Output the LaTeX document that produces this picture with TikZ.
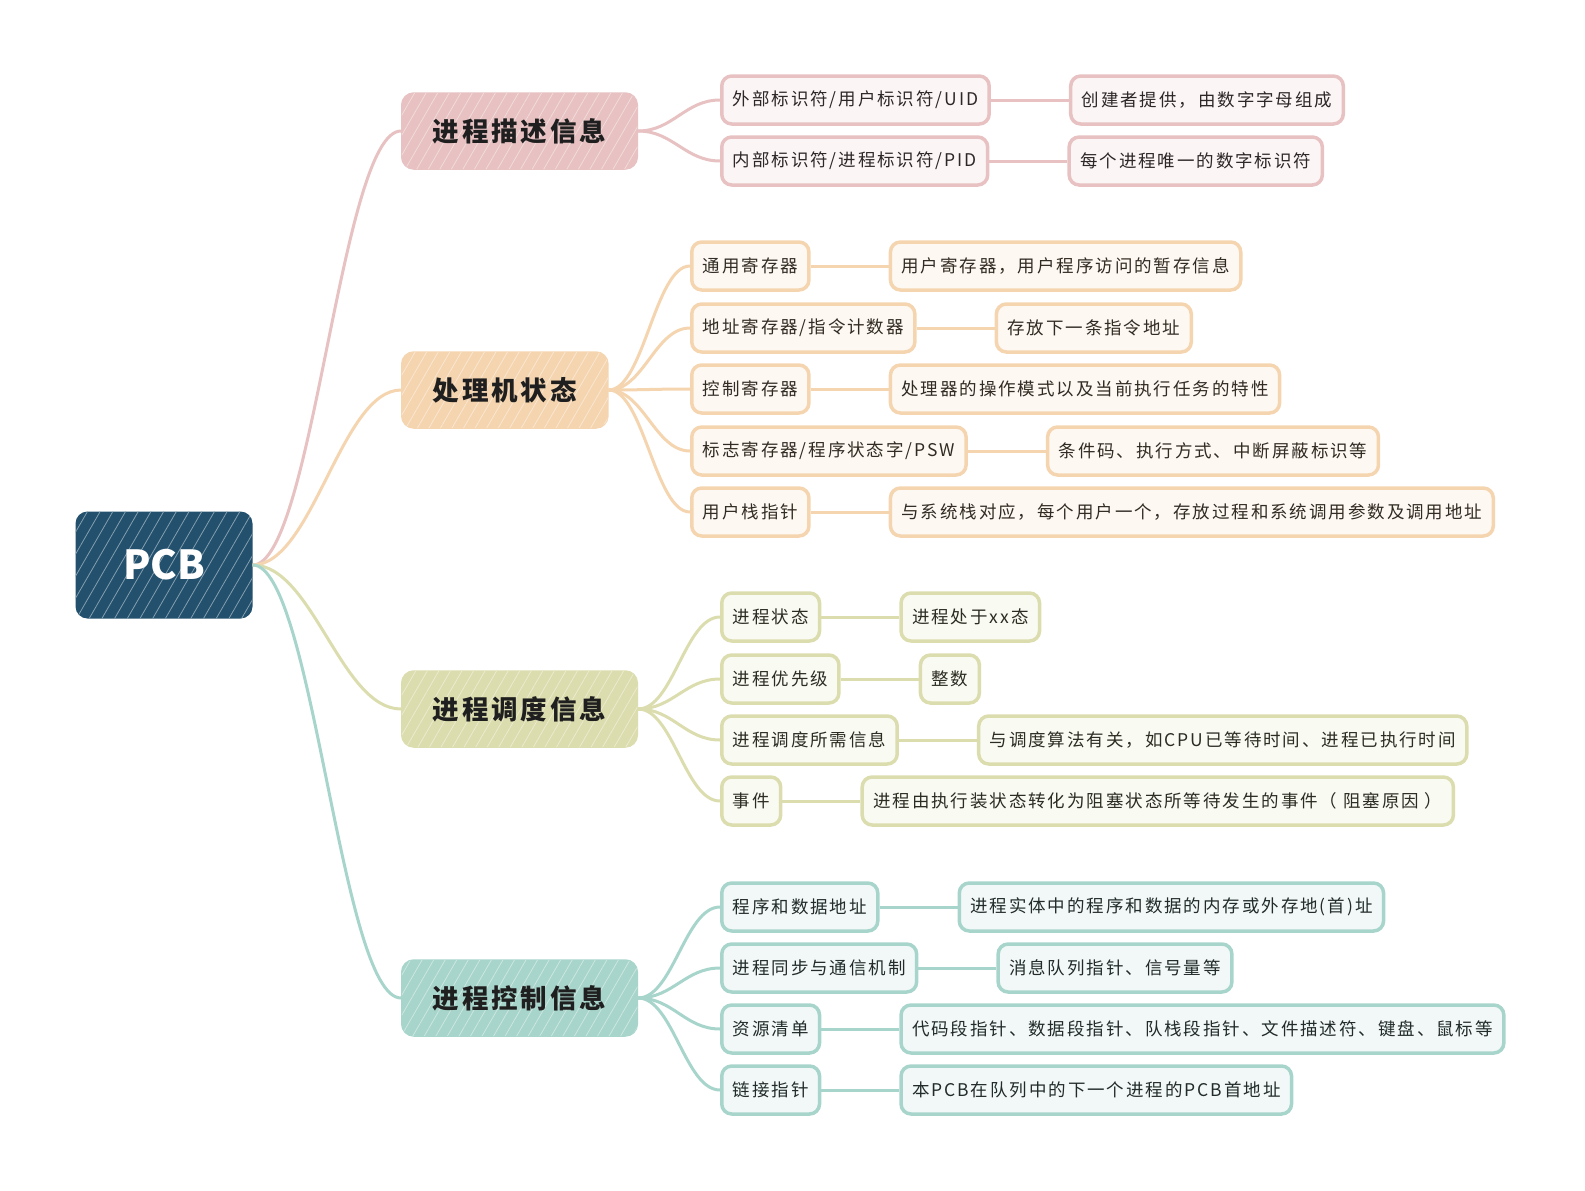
\documentclass[tikz,border=0pt]{standalone}
\usepackage{fontspec}
\newfontfamily\cjk[LetterSpace=11]{Noto Sans CJK SC}
\newfontfamily\rootfont{Noto Sans CJK SC}
\usepackage{xcolor}
\usetikzlibrary{positioning, patterns.meta}

\definecolor{pcbblue}{HTML}{22506D}
\definecolor{descpink}{HTML}{E8C2C2}
\definecolor{cpupeach}{HTML}{F5D5B0}
\definecolor{schedolive}{HTML}{DCDDAE}
\definecolor{ctrlteal}{HTML}{A8D5CB}

\begin{document}
\begin{tikzpicture}[x=1pt, y=-1pt, node distance=78pt,
        root/.style={rounded corners=12pt, fill=pcbblue, text=white, minimum width=177pt, minimum height=107pt,
            font=\rootfont\bfseries\fontsize{40}{48}\selectfont,
            postaction={pattern={Lines[angle=60,distance=11pt,line width=0.8pt]}, pattern color=white!45!pcbblue}},
        branch/.style={rounded corners=12pt, fill=#1, draw=#1, line width=1.5pt, minimum height=76pt, inner xsep=31pt,
            text=black!88, font=\cjk\bfseries\fontsize{26.5}{31}\selectfont,
            postaction={pattern={Lines[angle=60,distance=10pt,line width=0.7pt]}, pattern color=white!45!#1}},
        leaf/.style={rounded corners=10pt, draw=#1, fill=#1!16, line width=3.5pt, minimum height=48pt, inner xsep=11pt,
            text=#1!20!black, font=\cjk\fontsize{17.5}{21}\selectfont},
        link/.style={draw=#1, line width=3pt}
    ]
        \fill[white] (0,0) rectangle (1585,1191);
        \useasboundingbox (0,0) rectangle (1585,1191);

        % 根节点
        \node[root] (pcb) at (164,565) {PCB};

        % 一级分支
        \node[branch=descpink, anchor=west] (desc) at (401,131) {进程描述信息};
        \node[branch=cpupeach, anchor=west] (cpu) at (401,390) {处理机状态};
        \node[branch=schedolive, anchor=west] (sched) at (401,709) {进程调度信息};
        \node[branch=ctrlteal, anchor=west] (ctrl) at (401,998) {进程控制信息};

        % 进程描述信息
        \node[leaf=descpink, anchor=west] (uid) at (720,100) {外部标识符/用户标识符/UID};
        \node[leaf=descpink, right=of uid] (uidinfo) {创建者提供，由数字字母组成};
        \node[leaf=descpink, anchor=west] (pid) at (720,161) {内部标识符/进程标识符/PID};
        \node[leaf=descpink, right=of pid] (pidinfo) {每个进程唯一的数字标识符};

        % 处理机状态
        \node[leaf=cpupeach, anchor=west] (gpr) at (690,266) {通用寄存器};
        \node[leaf=cpupeach, right=of gpr] (gprinfo) {用户寄存器，用户程序访问的暂存信息};
        \node[leaf=cpupeach, anchor=west] (pc) at (690,328) {地址寄存器/指令计数器};
        \node[leaf=cpupeach, right=of pc] (pcinfo) {存放下一条指令地址};
        \node[leaf=cpupeach, anchor=west] (cr) at (690,389) {控制寄存器};
        \node[leaf=cpupeach, right=of cr] (crinfo) {处理器的操作模式以及当前执行任务的特性};
        \node[leaf=cpupeach, anchor=west] (psw) at (690,451) {标志寄存器/程序状态字/PSW};
        \node[leaf=cpupeach, right=of psw] (pswinfo) {条件码、执行方式、中断屏蔽标识等};
        \node[leaf=cpupeach, anchor=west] (usp) at (690,512) {用户栈指针};
        \node[leaf=cpupeach, right=of usp] (uspinfo) {与系统栈对应，每个用户一个，存放过程和系统调用参数及调用地址};

        % 进程调度信息
        \node[leaf=schedolive, anchor=west] (state) at (720,617) {进程状态};
        \node[leaf=schedolive, right=of state] (stateinfo) {进程处于xx态};
        \node[leaf=schedolive, anchor=west] (prio) at (720,679) {进程优先级};
        \node[leaf=schedolive, right=of prio] (prioinfo) {整数};
        \node[leaf=schedolive, anchor=west] (need) at (720,740) {进程调度所需信息};
        \node[leaf=schedolive, right=of need] (needinfo) {与调度算法有关，如CPU已等待时间、进程已执行时间};
        \node[leaf=schedolive, anchor=west] (event) at (720,801) {事件};
        \node[leaf=schedolive, right=of event] (eventinfo) {进程由执行装状态转化为阻塞状态所等待发生的事件（ 阻塞原因 ）};

        % 进程控制信息
        \node[leaf=ctrlteal, anchor=west] (addr) at (720,907) {程序和数据地址};
        \node[leaf=ctrlteal, right=of addr] (addrinfo) {进程实体中的程序和数据的内存或外存地(首)址};
        \node[leaf=ctrlteal, anchor=west] (sync) at (720,968) {进程同步与通信机制};
        \node[leaf=ctrlteal, right=of sync] (syncinfo) {消息队列指针、信号量等};
        \node[leaf=ctrlteal, anchor=west] (res) at (720,1029) {资源清单};
        \node[leaf=ctrlteal, right=of res] (resinfo) {代码段指针、数据段指针、队栈段指针、文件描述符、键盘、鼠标等};
        \node[leaf=ctrlteal, anchor=west] (next) at (720,1090) {链接指针};
        \node[leaf=ctrlteal, right=of next] (nextinfo) {本PCB在队列中的下一个进程的PCB首地址};

        % 连线
        \draw[link=descpink] (pcb.east) .. controls +(60,0) and +(-60,0) .. (desc.west);
        \draw[link=cpupeach] (pcb.east) .. controls +(60,0) and +(-60,0) .. (cpu.west);
        \draw[link=schedolive] (pcb.east) .. controls +(60,0) and +(-60,0) .. (sched.west);
        \draw[link=ctrlteal] (pcb.east) .. controls +(60,0) and +(-60,0) .. (ctrl.west);

        \draw[link=descpink] (desc.east) .. controls +(35,0) and +(-35,0) .. (uid.west);
        \draw[link=descpink] (desc.east) .. controls +(35,0) and +(-35,0) .. (pid.west);
        \draw[link=descpink] (uid) -- (uidinfo);
        \draw[link=descpink] (pid) -- (pidinfo);

        \draw[link=cpupeach] (cpu.east) .. controls +(35,0) and +(-35,0) .. (gpr.west);
        \draw[link=cpupeach] (cpu.east) .. controls +(35,0) and +(-35,0) .. (pc.west);
        \draw[link=cpupeach] (cpu.east) .. controls +(35,0) and +(-35,0) .. (cr.west);
        \draw[link=cpupeach] (cpu.east) .. controls +(35,0) and +(-35,0) .. (psw.west);
        \draw[link=cpupeach] (cpu.east) .. controls +(35,0) and +(-35,0) .. (usp.west);
        \draw[link=cpupeach] (gpr) -- (gprinfo);
        \draw[link=cpupeach] (pc) -- (pcinfo);
        \draw[link=cpupeach] (cr) -- (crinfo);
        \draw[link=cpupeach] (psw) -- (pswinfo);
        \draw[link=cpupeach] (usp) -- (uspinfo);

        \draw[link=schedolive] (sched.east) .. controls +(35,0) and +(-35,0) .. (state.west);
        \draw[link=schedolive] (sched.east) .. controls +(35,0) and +(-35,0) .. (prio.west);
        \draw[link=schedolive] (sched.east) .. controls +(35,0) and +(-35,0) .. (need.west);
        \draw[link=schedolive] (sched.east) .. controls +(35,0) and +(-35,0) .. (event.west);
        \draw[link=schedolive] (state) -- (stateinfo);
        \draw[link=schedolive] (prio) -- (prioinfo);
        \draw[link=schedolive] (need) -- (needinfo);
        \draw[link=schedolive] (event) -- (eventinfo);

        \draw[link=ctrlteal] (ctrl.east) .. controls +(35,0) and +(-35,0) .. (addr.west);
        \draw[link=ctrlteal] (ctrl.east) .. controls +(35,0) and +(-35,0) .. (sync.west);
        \draw[link=ctrlteal] (ctrl.east) .. controls +(35,0) and +(-35,0) .. (res.west);
        \draw[link=ctrlteal] (ctrl.east) .. controls +(35,0) and +(-35,0) .. (next.west);
        \draw[link=ctrlteal] (addr) -- (addrinfo);
        \draw[link=ctrlteal] (sync) -- (syncinfo);
        \draw[link=ctrlteal] (res) -- (resinfo);
        \draw[link=ctrlteal] (next) -- (nextinfo);

    \end{tikzpicture}
\end{document}
